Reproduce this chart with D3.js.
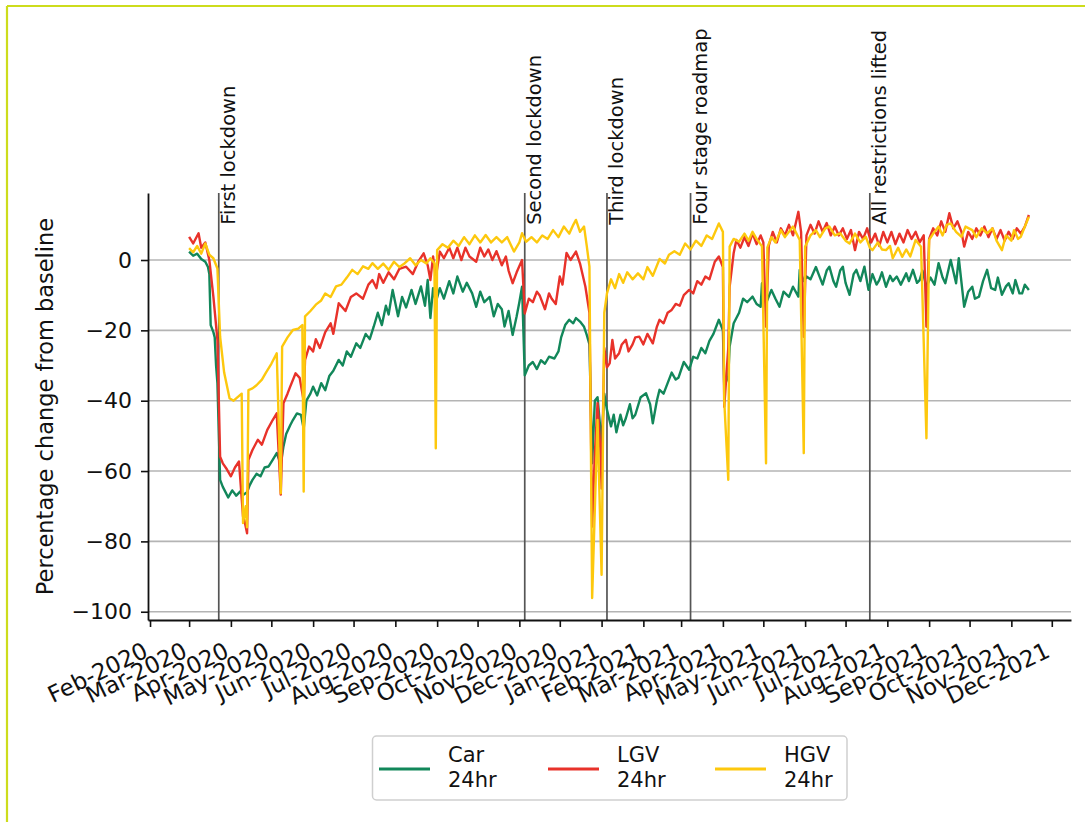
<!DOCTYPE html>
<html>
<head>
<meta charset="utf-8">
<script src="https://cdn.jsdelivr.net/npm/d3@7"></script>
<style>
  html, body { margin: 0; padding: 0; background: #fff; }
  svg { display: block; font-family: "DejaVu Sans", sans-serif; }
</style>
</head>
<body>
<svg id="chart" width="1085" height="822"></svg>
<script>
// ---------------- DATA ----------------
const seriesNames = ["Car", "LGV", "HGV"];
const seriesColors = ["#12875a", "#e8322a", "#fdc80d"];
const yTicks = [0, -20, -40, -60, -80, -100];

const eventDates = ["2020-03-23", "2020-11-05", "2021-01-05", "2021-03-08", "2021-07-19"];
const eventLabels = ["First lockdown", "Second lockdown", "Third lockdown", "Four stage roadmap", "All restrictions lifted"];

const car = [
["2020-03-01",2.4],["2020-03-04",1.2],["2020-03-07",1.8],["2020-03-10",0.3],["2020-03-13",-0.5],["2020-03-15",-2.0],
["2020-03-16",-4.0],["2020-03-17",-18.5],["2020-03-19",-20.5],["2020-03-20",-22.0],["2020-03-21",-30.0],["2020-03-22",-35.0],
["2020-03-24",-62.5],["2020-03-26",-64.5],["2020-03-28",-66.0],["2020-03-30",-67.5],["2020-04-02",-65.5],["2020-04-05",-67.0],
["2020-04-08",-65.8],["2020-04-10",-66.8],["2020-04-13",-66.0],["2020-04-15",-64.0],["2020-04-17",-62.5],["2020-04-20",-60.8],
["2020-04-23",-61.5],["2020-04-26",-59.0],["2020-04-29",-58.7],["2020-05-02",-56.8],["2020-05-05",-54.9],["2020-05-08",-58.0],
["2020-05-10",-53.0],["2020-05-12",-49.5],["2020-05-15",-47.0],["2020-05-17",-45.5],["2020-05-20",-43.6],["2020-05-23",-44.0],
["2020-05-25",-48.0],["2020-05-27",-40.0],["2020-05-30",-38.0],["2020-06-01",-36.0],["2020-06-04",-38.5],["2020-06-07",-35.0],
["2020-06-10",-37.0],["2020-06-13",-33.0],["2020-06-16",-31.5],["2020-06-20",-28.4],["2020-06-23",-30.0],["2020-06-26",-26.0],
["2020-06-29",-27.5],["2020-07-03",-23.7],["2020-07-06",-25.0],["2020-07-10",-21.0],["2020-07-13",-22.5],["2020-07-16",-18.9],
["2020-07-19",-15.0],["2020-07-22",-18.5],["2020-07-25",-13.0],["2020-07-27",-15.5],["2020-07-30",-8.5],["2020-08-03",-16.0],
["2020-08-06",-10.5],["2020-08-09",-13.5],["2020-08-13",-8.5],["2020-08-16",-12.5],["2020-08-20",-7.5],["2020-08-23",-13.0],
["2020-08-25",-5.7],["2020-08-27",-16.5],["2020-08-29",-8.0],["2020-08-31",-12.0],["2020-09-03",-8.0],["2020-09-06",-11.0],
["2020-09-10",-6.0],["2020-09-13",-9.5],["2020-09-16",-4.7],["2020-09-20",-9.0],["2020-09-23",-6.5],["2020-09-27",-9.5],
["2020-09-30",-13.3],["2020-10-03",-9.0],["2020-10-06",-12.0],["2020-10-10",-10.5],["2020-10-13",-16.0],["2020-10-16",-12.5],
["2020-10-19",-14.0],["2020-10-21",-18.9],["2020-10-24",-14.5],["2020-10-27",-21.3],["2020-10-30",-16.0],["2020-11-01",-12.0],
["2020-11-03",-7.6],["2020-11-05",-32.8],["2020-11-08",-30.0],["2020-11-11",-29.0],["2020-11-14",-31.0],["2020-11-17",-28.5],
["2020-11-20",-29.5],["2020-11-23",-27.5],["2020-11-27",-28.0],["2020-11-30",-26.0],["2020-12-02",-22.0],["2020-12-05",-18.5],
["2020-12-08",-17.0],["2020-12-11",-18.0],["2020-12-13",-16.5],["2020-12-16",-17.5],["2020-12-19",-19.0],["2020-12-21",-21.3],
["2020-12-23",-24.0],["2020-12-25",-57.8],["2020-12-27",-40.0],["2020-12-29",-39.0],["2021-01-01",-52.0],["2021-01-03",-38.0],
["2021-01-05",-42.6],["2021-01-08",-47.3],["2021-01-10",-44.0],["2021-01-12",-49.0],["2021-01-15",-44.0],["2021-01-17",-47.0],
["2021-01-19",-45.0],["2021-01-22",-41.0],["2021-01-24",-45.0],["2021-01-26",-44.0],["2021-01-30",-39.0],["2021-02-03",-37.9],
["2021-02-06",-41.0],["2021-02-08",-46.4],["2021-02-11",-40.0],["2021-02-13",-36.9],["2021-02-16",-38.0],["2021-02-19",-35.0],
["2021-02-22",-32.0],["2021-02-25",-34.0],["2021-02-27",-33.5],["2021-03-03",-29.0],["2021-03-07",-31.2],["2021-03-10",-27.5],
["2021-03-13",-28.0],["2021-03-16",-25.0],["2021-03-19",-26.5],["2021-03-22",-23.0],["2021-03-25",-21.0],["2021-03-29",-17.0],
["2021-04-01",-20.0],["2021-04-02",-36.0],["2021-04-05",-33.0],["2021-04-06",-24.6],["2021-04-09",-18.0],["2021-04-13",-15.0],
["2021-04-16",-11.0],["2021-04-19",-12.0],["2021-04-23",-10.4],["2021-04-26",-12.5],["2021-04-29",-13.3],["2021-04-30",-6.6],
["2021-05-03",-12.3],["2021-05-07",-8.5],["2021-05-10",-11.0],["2021-05-13",-13.3],["2021-05-16",-9.0],["2021-05-20",-10.5],
["2021-05-23",-7.6],["2021-05-27",-10.4],["2021-05-28",-2.8],["2021-05-31",-6.0],["2021-06-02",-4.7],["2021-06-05",-5.5],
["2021-06-09",-2.0],["2021-06-12",-5.0],["2021-06-14",-7.0],["2021-06-17",-3.0],["2021-06-19",-1.9],["2021-06-22",-6.0],
["2021-06-24",-7.6],["2021-06-27",-3.0],["2021-06-29",-1.9],["2021-07-01",-6.5],["2021-07-04",-9.9],["2021-07-07",-4.0],
["2021-07-09",-2.8],["2021-07-12",-6.0],["2021-07-15",-1.9],["2021-07-18",-8.5],["2021-07-21",-4.0],["2021-07-24",-7.0],
["2021-07-26",-5.7],["2021-07-28",-3.5],["2021-07-31",-7.6],["2021-08-03",-4.5],["2021-08-05",-6.0],["2021-08-08",-4.7],
["2021-08-11",-7.0],["2021-08-15",-3.8],["2021-08-17",-6.0],["2021-08-20",-2.8],["2021-08-23",-6.5],["2021-08-25",-5.7],
["2021-08-27",-3.0],["2021-08-30",-7.6],["2021-09-02",-5.0],["2021-09-05",-7.0],["2021-09-08",-0.9],["2021-09-11",-5.0],
["2021-09-13",-6.6],["2021-09-17",0.0],["2021-09-21",-6.6],["2021-09-23",0.5],["2021-09-27",-13.3],["2021-09-30",-9.0],
["2021-10-03",-7.6],["2021-10-05",-11.0],["2021-10-08",-10.4],["2021-10-11",-6.0],["2021-10-14",-2.8],["2021-10-17",-8.0],
["2021-10-20",-8.5],["2021-10-22",-5.0],["2021-10-25",-9.9],["2021-10-28",-7.5],["2021-10-30",-6.6],["2021-11-02",-9.5],
["2021-11-04",-5.7],["2021-11-07",-9.5],["2021-11-09",-9.5],["2021-11-11",-7.0],["2021-11-14",-8.5]
];

const lgv = [
["2020-03-01",6.6],["2020-03-04",4.7],["2020-03-08",7.6],["2020-03-10",3.5],["2020-03-13",5.0],["2020-03-16",0.0],
["2020-03-19",-10.4],["2020-03-22",-22.7],["2020-03-24",-55.9],["2020-03-26",-57.8],["2020-03-29",-59.5],["2020-04-01",-61.5],
["2020-04-04",-59.0],["2020-04-07",-57.3],["2020-04-10",-72.9],["2020-04-11",-74.0],["2020-04-13",-77.7],["2020-04-14",-56.8],
["2020-04-17",-54.0],["2020-04-21",-51.1],["2020-04-24",-52.5],["2020-04-28",-48.3],["2020-05-02",-45.5],["2020-05-05",-43.6],
["2020-05-08",-66.7],["2020-05-10",-40.7],["2020-05-13",-38.0],["2020-05-15",-36.0],["2020-05-19",-32.2],["2020-05-22",-33.5],
["2020-05-25",-40.0],["2020-05-26",-28.4],["2020-05-29",-24.6],["2020-06-01",-26.0],["2020-06-03",-22.5],["2020-06-06",-25.0],
["2020-06-10",-20.5],["2020-06-14",-18.0],["2020-06-16",-21.0],["2020-06-20",-12.3],["2020-06-25",-14.5],["2020-06-29",-10.5],
["2020-07-03",-9.5],["2020-07-08",-11.0],["2020-07-12",-7.0],["2020-07-15",-5.7],["2020-07-18",-8.0],["2020-07-20",-4.0],
["2020-07-23",-6.5],["2020-07-27",-3.5],["2020-07-31",-5.5],["2020-08-04",-2.5],["2020-08-09",-1.9],["2020-08-14",-4.0],
["2020-08-18",-0.5],["2020-08-22",1.9],["2020-08-25",-1.5],["2020-08-27",-5.7],["2020-08-29",1.0],["2020-08-31",-5.0],
["2020-09-03",2.4],["2020-09-06",0.5],["2020-09-10",3.5],["2020-09-13",0.5],["2020-09-16",3.5],["2020-09-19",0.0],
["2020-09-22",3.5],["2020-09-25",1.0],["2020-09-30",-0.5],["2020-10-03",3.5],["2020-10-06",1.0],["2020-10-09",3.0],
["2020-10-12",0.0],["2020-10-15",2.5],["2020-10-19",-1.5],["2020-10-22",1.0],["2020-10-24",-3.0],["2020-10-27",-6.6],
["2020-10-30",-3.5],["2020-11-03",0.0],["2020-11-05",-15.2],["2020-11-08",-11.0],["2020-11-11",-12.0],["2020-11-14",-9.0],
["2020-11-16",-10.0],["2020-11-20",-14.0],["2020-11-23",-9.5],["2020-11-25",-11.0],["2020-11-28",-12.5],["2020-12-01",-4.7],
["2020-12-03",-7.0],["2020-12-06",2.0],["2020-12-09",0.0],["2020-12-13",2.4],["2020-12-16",-1.0],["2020-12-20",-7.6],
["2020-12-23",-15.0],["2020-12-25",-75.8],["2020-12-27",-55.0],["2020-12-29",-40.7],["2020-12-31",-53.0],["2021-01-01",-65.0],
["2021-01-03",-25.0],["2021-01-05",-30.5],["2021-01-07",-29.4],["2021-01-09",-22.7],["2021-01-11",-28.0],["2021-01-14",-26.5],
["2021-01-16",-24.0],["2021-01-19",-22.7],["2021-01-21",-26.0],["2021-01-24",-24.0],["2021-01-26",-22.0],["2021-01-29",-21.8],
["2021-02-01",-24.0],["2021-02-04",-21.0],["2021-02-08",-23.7],["2021-02-11",-19.0],["2021-02-13",-17.0],["2021-02-16",-18.0],
["2021-02-19",-15.0],["2021-02-22",-14.2],["2021-02-25",-12.5],["2021-02-28",-13.0],["2021-03-03",-10.0],["2021-03-07",-8.5],
["2021-03-10",-9.5],["2021-03-13",-6.0],["2021-03-16",-7.0],["2021-03-19",-4.7],["2021-03-22",-5.5],["2021-03-26",-0.5],
["2021-03-29",1.0],["2021-04-01",-2.0],["2021-04-02",-41.7],["2021-04-05",-25.0],["2021-04-06",-7.6],["2021-04-09",2.0],
["2021-04-11",5.7],["2021-04-14",3.5],["2021-04-17",6.5],["2021-04-20",4.0],["2021-04-23",7.6],["2021-04-26",4.5],
["2021-04-29",7.0],["2021-05-01",5.0],["2021-05-03",-19.0],["2021-05-05",4.0],["2021-05-08",8.0],["2021-05-11",5.0],
["2021-05-14",9.0],["2021-05-17",7.0],["2021-05-20",10.0],["2021-05-23",7.0],["2021-05-27",13.7],["2021-05-29",8.0],
["2021-05-31",-21.8],["2021-06-02",7.0],["2021-06-05",10.0],["2021-06-08",7.5],["2021-06-11",11.0],["2021-06-14",8.0],
["2021-06-17",10.5],["2021-06-20",7.0],["2021-06-23",9.5],["2021-06-26",7.0],["2021-06-29",9.0],["2021-07-02",6.0],
["2021-07-05",8.5],["2021-07-08",2.8],["2021-07-11",8.0],["2021-07-14",6.0],["2021-07-17",9.0],["2021-07-20",5.0],
["2021-07-23",7.5],["2021-07-26",4.0],["2021-07-29",8.0],["2021-08-01",5.0],["2021-08-04",8.0],["2021-08-07",4.5],
["2021-08-10",7.5],["2021-08-13",5.0],["2021-08-16",8.5],["2021-08-19",6.0],["2021-08-22",8.0],["2021-08-25",5.0],
["2021-08-28",7.0],["2021-08-30",-19.0],["2021-09-01",6.0],["2021-09-04",9.0],["2021-09-07",7.0],["2021-09-10",11.0],
["2021-09-13",8.0],["2021-09-16",13.3],["2021-09-19",9.0],["2021-09-22",11.0],["2021-09-25",8.0],["2021-09-27",3.8],
["2021-09-30",8.0],["2021-10-03",6.0],["2021-10-06",9.0],["2021-10-09",7.0],["2021-10-12",9.5],["2021-10-15",6.5],
["2021-10-18",9.0],["2021-10-21",6.0],["2021-10-24",8.5],["2021-10-27",5.5],["2021-10-30",8.0],["2021-11-02",6.0],
["2021-11-05",9.0],["2021-11-08",7.5],["2021-11-11",9.5],["2021-11-14",12.8]
];

const hgv = [
["2020-03-01",3.4],["2020-03-04",2.2],["2020-03-07",4.0],["2020-03-10",1.8],["2020-03-13",4.7],["2020-03-16",1.5],
["2020-03-19",0.5],["2020-03-22",-2.4],["2020-03-24",-21.8],["2020-03-27",-32.0],["2020-03-31",-39.3],["2020-04-03",-40.0],
["2020-04-06",-39.0],["2020-04-09",-38.0],["2020-04-10",-74.8],["2020-04-12",-70.0],["2020-04-13",-76.0],["2020-04-14",-37.0],
["2020-04-17",-36.5],["2020-04-20",-35.6],["2020-04-24",-34.0],["2020-04-27",-32.0],["2020-05-01",-29.5],["2020-05-05",-26.5],
["2020-05-08",-66.3],["2020-05-09",-24.6],["2020-05-13",-22.0],["2020-05-17",-19.9],["2020-05-21",-19.5],["2020-05-24",-18.5],
["2020-05-25",-65.8],["2020-05-26",-16.0],["2020-05-30",-14.5],["2020-06-03",-12.7],["2020-06-07",-11.5],["2020-06-10",-9.5],
["2020-06-14",-10.5],["2020-06-18",-7.5],["2020-06-22",-7.0],["2020-06-26",-5.0],["2020-06-30",-2.8],["2020-07-04",-4.0],
["2020-07-08",-1.8],["2020-07-12",-2.5],["2020-07-15",-0.9],["2020-07-19",-2.5],["2020-07-23",-1.0],["2020-07-27",-2.8],
["2020-07-31",-0.5],["2020-08-04",-2.0],["2020-08-08",-0.9],["2020-08-12",0.5],["2020-08-16",-1.5],["2020-08-20",0.0],
["2020-08-24",-1.0],["2020-08-27",0.5],["2020-08-30",-0.9],["2020-08-31",-53.5],["2020-09-01",2.8],["2020-09-05",4.5],
["2020-09-09",3.5],["2020-09-13",5.5],["2020-09-17",4.0],["2020-09-21",6.5],["2020-09-25",4.5],["2020-09-29",7.0],
["2020-10-03",5.0],["2020-10-07",7.1],["2020-10-11",5.0],["2020-10-15",6.5],["2020-10-19",5.0],["2020-10-23",6.5],
["2020-10-28",2.4],["2020-11-01",5.0],["2020-11-03",7.6],["2020-11-06",5.2],["2020-11-10",6.5],["2020-11-14",5.0],
["2020-11-18",7.0],["2020-11-22",6.0],["2020-11-26",8.5],["2020-11-30",6.5],["2020-12-04",9.5],["2020-12-08",7.5],
["2020-12-11",10.0],["2020-12-13",11.4],["2020-12-16",8.0],["2020-12-19",9.5],["2020-12-21",4.0],["2020-12-23",-1.9],
["2020-12-25",-96.1],["2020-12-29",-45.5],["2021-01-01",-89.5],["2021-01-03",-15.0],["2021-01-05",-9.5],["2021-01-08",-5.5],
["2021-01-11",-8.0],["2021-01-14",-4.0],["2021-01-17",-6.5],["2021-01-20",-3.5],["2021-01-24",-5.5],["2021-01-28",-3.8],
["2021-02-01",-5.5],["2021-02-04",-2.0],["2021-02-08",-4.5],["2021-02-13",0.3],["2021-02-17",-1.0],["2021-02-20",1.5],
["2021-02-24",2.5],["2021-02-28",1.5],["2021-03-04",4.7],["2021-03-08",3.0],["2021-03-12",5.5],["2021-03-16",4.0],
["2021-03-20",7.0],["2021-03-24",6.0],["2021-03-29",10.4],["2021-04-01",8.0],["2021-04-02",-40.0],["2021-04-05",-62.5],
["2021-04-06",3.8],["2021-04-09",6.0],["2021-04-13",5.2],["2021-04-17",7.5],["2021-04-20",5.5],["2021-04-23",8.0],
["2021-04-26",6.0],["2021-04-30",3.9],["2021-05-03",-57.8],["2021-05-04",3.6],["2021-05-07",6.5],["2021-05-10",5.0],
["2021-05-14",8.5],["2021-05-17",6.5],["2021-05-20",8.0],["2021-05-23",9.5],["2021-05-28",5.7],["2021-05-31",-54.9],
["2021-06-01",3.8],["2021-06-05",7.0],["2021-06-09",8.5],["2021-06-12",6.5],["2021-06-16",9.0],["2021-06-19",9.5],
["2021-06-23",7.0],["2021-06-27",7.6],["2021-07-01",5.5],["2021-07-04",4.7],["2021-07-08",7.5],["2021-07-12",5.0],
["2021-07-16",6.6],["2021-07-19",3.5],["2021-07-21",2.8],["2021-07-25",5.0],["2021-07-28",3.0],["2021-07-31",2.8],
["2021-08-03",4.0],["2021-08-05",0.5],["2021-08-09",3.5],["2021-08-12",0.9],["2021-08-15",3.0],["2021-08-18",1.0],
["2021-08-22",5.7],["2021-08-26",3.8],["2021-08-30",-50.7],["2021-09-01",5.7],["2021-09-04",7.5],["2021-09-08",9.5],
["2021-09-11",7.0],["2021-09-14",10.0],["2021-09-17",10.4],["2021-09-21",8.0],["2021-09-25",6.6],["2021-09-28",9.5],
["2021-10-03",8.5],["2021-10-06",6.5],["2021-10-10",9.0],["2021-10-14",7.6],["2021-10-18",9.0],["2021-10-21",5.5],
["2021-10-25",2.8],["2021-10-28",7.0],["2021-11-01",5.5],["2021-11-03",8.5],["2021-11-06",6.0],["2021-11-08",6.6],
["2021-11-11",9.5],["2021-11-14",12.3]
];

const seriesData = [car, lgv, hgv];

// ---------------- CHART ----------------
const FONT = "DejaVu Sans";
const parse = d3.utcParse("%Y-%m-%d");
const svg = d3.select("#chart");

// outer frame (top and left edges)
svg.append("line").attr("x1", 7).attr("x2", 1085).attr("y1", 6).attr("y2", 6)
  .attr("stroke", "#cddc1c").attr("stroke-width", 2.2);
svg.append("line").attr("x1", 7).attr("x2", 7).attr("y1", 6).attr("y2", 822)
  .attr("stroke", "#cddc1c").attr("stroke-width", 2.2);

const plot = { left: 148, right: 1071, top: 193, bottom: 620 };

const x = d3.scaleUtc()
  .domain([new Date(Date.UTC(2020, 0, 30, 12)), new Date(Date.UTC(2021, 11, 15, 6))])
  .range([plot.left, plot.right]);
const y = d3.scaleLinear()
  .domain([-102.35, 19.05])
  .range([plot.bottom, plot.top]);

// gridlines
svg.append("g").selectAll("line").data(yTicks).join("line")
  .attr("x1", plot.left).attr("x2", plot.right)
  .attr("y1", d => y(d)).attr("y2", d => y(d))
  .attr("stroke", "#b4b4b4").attr("stroke-width", 1.6);

// event vertical lines
svg.append("g").selectAll("line").data(eventDates).join("line")
  .attr("x1", d => x(parse(d))).attr("x2", d => x(parse(d)))
  .attr("y1", plot.top).attr("y2", plot.bottom)
  .attr("stroke", "#555").attr("stroke-width", 1.7);

// lines
const line = d3.line().x(d => x(parse(d[0]))).y(d => y(d[1]));
svg.append("g").selectAll("path").data(seriesData).join("path")
  .attr("d", d => line(d))
  .attr("fill", "none")
  .attr("stroke", (d, i) => seriesColors[i])
  .attr("stroke-width", 2.4)
  .attr("stroke-linejoin", "round");

// event labels
svg.append("g").attr("font-family", FONT).selectAll("text").data(eventDates).join("text")
  .attr("transform", d => `translate(${x(parse(d)) + 16.5},${y(10)}) rotate(-90)`)
  .attr("font-size", 19.5)
  .attr("fill", "#111")
  .text((d, i) => eventLabels[i]);

// axes
const monthTicks = d3.utcMonth.range(new Date(Date.UTC(2020, 1, 1)), new Date(Date.UTC(2021, 11, 2)));
const xAxis = d3.axisBottom(x).tickValues(monthTicks).tickFormat(d3.utcFormat("%b-%Y"))
  .tickSize(7).tickSizeOuter(0);
const gx = svg.append("g").attr("transform", `translate(0,${plot.bottom})`).call(xAxis)
  .attr("font-family", FONT);
gx.select(".domain").attr("stroke", "#111").attr("stroke-width", 1.8);
gx.selectAll(".tick line").attr("stroke", "#111").attr("stroke-width", 1.6);
gx.selectAll(".tick text")
  .attr("font-size", 23).attr("fill", "#111")
  .attr("text-anchor", "end")
  .attr("x", 0).attr("y", 0).attr("dy", null)
  .attr("transform", "translate(-1,36) rotate(-26)");

const yAxis = d3.axisLeft(y).tickValues(yTicks).tickFormat(d => d < 0 ? "\u2212" + Math.abs(d) : d)
  .tickSize(7).tickSizeOuter(0);
const gy = svg.append("g").attr("transform", `translate(${plot.left},0)`).call(yAxis)
  .attr("font-family", FONT);
gy.select(".domain").attr("stroke", "#111").attr("stroke-width", 1.8);
gy.selectAll(".tick line").attr("stroke", "#111").attr("stroke-width", 1.6);
gy.selectAll(".tick text").attr("font-size", 22).attr("fill", "#111").attr("x", -16);

svg.append("text")
  .attr("font-family", FONT)
  .attr("transform", `translate(53,${(plot.top + plot.bottom) / 2}) rotate(-90)`)
  .attr("text-anchor", "middle")
  .attr("font-size", 22.5).attr("fill", "#111")
  .text("Percentage change from baseline");

// legend
const lg = svg.append("g").attr("font-family", FONT);
lg.append("rect").attr("x", 372.5).attr("y", 736).attr("width", 474.5).attr("height", 64)
  .attr("rx", 4).attr("fill", "#fff").attr("stroke", "#cfcfcf").attr("stroke-width", 1.5);
const legX = [379, 548, 715];
const items = lg.selectAll("g.item").data(seriesNames).join("g").attr("class", "item")
  .attr("transform", (d, i) => `translate(${legX[i]},0)`);
items.append("line").attr("x1", 0).attr("x2", 51).attr("y1", 769).attr("y2", 769)
  .attr("stroke", (d, i) => seriesColors[i]).attr("stroke-width", 3);
items.append("text").attr("x", 69).attr("y", 762).attr("font-size", 21).attr("fill", "#111").text(d => d);
items.append("text").attr("x", 69).attr("y", 787).attr("font-size", 21).attr("fill", "#111").text("24hr");
</script>
</body>
</html>
